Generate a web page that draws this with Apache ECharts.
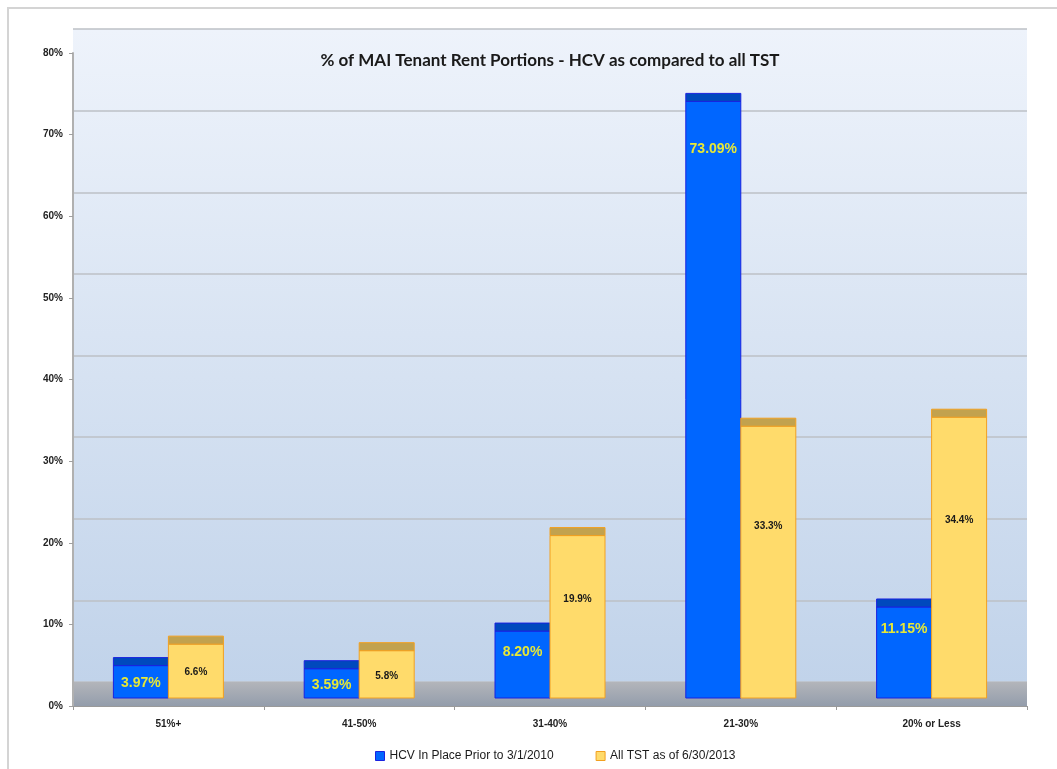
<!DOCTYPE html>
<html>
<head>
<meta charset="utf-8">
<script src="https://cdn.jsdelivr.net/npm/echarts@6/dist/echarts.min.js"></script>
<style>
  html, body { margin: 0; padding: 0; background: #fff; }
  #chart { width: 1057px; height: 769px; }
</style>
</head>
<body>
<div id="chart"></div>
<script type="text/javascript">
    // data
    const categories = ['51%+', '41-50%', '31-40%', '21-30%', '20% or Less'];
    const hcvValues = [3.97, 3.59, 8.20, 73.09, 11.15];
    const tstValues = [6.6, 5.8, 19.9, 33.3, 34.4];
    const seriesNames = ['HCV In Place Prior to 3/1/2010', 'All TST as of 6/30/2013'];
    const yTicks = [0, 10, 20, 30, 40, 50, 60, 70, 80];

    const chart = echarts.init(document.getElementById('chart'));

    // front face / top cap / border / label colours per series
    const looks = [
        { front: '#0066ff', cap: '#0049bd', stroke: '#1a22e0', label: '#e6e836', font: 'bold 14px Arial', digits: 2 },
        { front: '#ffdb6b', cap: '#c2a24e', stroke: '#f2a020', label: '#1a1a1a', font: 'bold 10px Arial', digits: 1 }
    ];
    const capH = 8;

    function barRenderer(s) {
        return function (params, api) {
            const idx = api.value(0);
            const val = api.value(1);
            const base = api.coord([idx, 0]);
            const top = api.coord([idx, val]);
            const band = api.size([1, 0])[0];
            const w = Math.round(band * 0.288);
            const x0 = s === 0 ? base[0] - w : base[0];
            const h = base[1] - top[1];
            const lk = looks[s];
            const off = s === 0 ? Math.min(h * 0.55, 18 + h * 0.05) : 10 + h * 0.33;
            return {
                type: 'group',
                children: [
                    {
                        type: 'rect',
                        shape: { x: x0, y: top[1], width: w, height: h },
                        style: { fill: lk.front, stroke: lk.stroke, lineWidth: 1 }
                    },
                    {
                        type: 'rect',
                        shape: { x: x0, y: top[1] - capH, width: w, height: capH },
                        style: { fill: lk.cap, stroke: lk.stroke, lineWidth: 1 }
                    },
                    {
                        type: 'text',
                        style: {
                            text: val.toFixed(lk.digits) + '%',
                            x: x0 + w / 2,
                            y: top[1] + off,
                            align: 'center',
                            verticalAlign: 'middle',
                            fill: lk.label,
                            font: lk.font
                        }
                    }
                ]
            };
        };
    }

    const gridLeft = 73, gridRight = 30;

    let option = {
        backgroundColor: '#ffffff',
        animation: false,
        title: {
            text: '% of MAI Tenant Rent Portions - HCV as compared to all TST',
            left: 545,
            top: 47,
            textAlign: 'center',
            textStyle: { fontFamily: 'Lato', fontWeight: 'bold', fontSize: 17, color: '#1a1a1a' }
        },
        legend: {
            left: 370,
            top: 745,
            itemWidth: 9,
            itemHeight: 9,
            itemGap: 42,
            textStyle: { fontFamily: 'Arial', fontSize: 12, color: '#1a1a1a' },
            data: [
                { name: seriesNames[0], icon: 'rect', itemStyle: { color: '#0066ff', borderColor: '#1a22e0', borderWidth: 1 } },
                { name: seriesNames[1], icon: 'rect', itemStyle: { color: '#ffdb6b', borderColor: '#f2a020', borderWidth: 1 } }
            ]
        },
        graphic: [
            // outer chart frame
            {
                type: 'rect', z: -10,
                shape: { x: 8, y: 8, width: 1200, height: 900 },
                style: { fill: 'none', stroke: '#d4d4d4', lineWidth: 2 }
            },
            // floor
            {
                type: 'rect', z: 1,
                shape: { x: gridLeft, y: 682, width: 1057 - gridLeft - gridRight, height: 25 },
                style: {
                    fill: new echarts.graphic.LinearGradient(0, 0, 0, 1, [
                        { offset: 0, color: '#b3b5ba' },
                        { offset: 1, color: '#929cab' }
                    ])
                }
            }
        ],
        grid: [
            // axis labels / ticks
            { left: gridLeft, right: gridRight, top: 53, bottom: 63 },
            // back wall with gridlines
            {
                left: gridLeft, right: gridRight, top: 29, bottom: 87,
                show: true, borderWidth: 0,
                backgroundColor: new echarts.graphic.LinearGradient(0, 0, 0, 1, [
                    { offset: 0, color: '#eef3fb' },
                    { offset: 1, color: '#c1d3ea' }
                ])
            },
            // bars (front faces sit slightly above the axis baseline)
            { left: gridLeft, right: gridRight, top: 45, bottom: 71 }
        ],
        xAxis: [
            {
                gridIndex: 0,
                type: 'category',
                data: categories,
                axisLine: { lineStyle: { color: '#9a9a9a', width: 1 } },
                axisTick: { show: true, length: 4, lineStyle: { color: '#9a9a9a' } },
                axisLabel: { fontFamily: 'Arial', fontWeight: 'bold', fontSize: 10, color: '#222', margin: 13 },
                z: 3
            },
            { gridIndex: 1, type: 'category', data: categories, show: false },
            { gridIndex: 2, type: 'category', data: categories, show: false }
        ],
        yAxis: [
            {
                gridIndex: 0,
                type: 'value',
                min: yTicks[0],
                max: yTicks[yTicks.length - 1],
                interval: 10,
                axisLine: { show: true, lineStyle: { color: '#b0b0b0', width: 2 } },
                axisTick: { show: true, length: 4, lineStyle: { color: '#a0a0a0' } },
                axisLabel: { formatter: '{value}%', fontFamily: 'Arial', fontWeight: 'bold', fontSize: 10, color: '#222', margin: 10 },
                splitLine: { show: false },
                z: 3
            },
            {
                gridIndex: 1,
                type: 'value',
                min: 0, max: 80, interval: 10,
                axisLine: { show: false },
                axisTick: { show: false },
                axisLabel: { show: false },
                splitLine: { show: true, lineStyle: { color: '#bcc0c6', width: 1.5 } }
            },
            { gridIndex: 2, type: 'value', min: 0, max: 80, interval: 10, show: false, splitLine: { show: false } }
        ],
        series: [
            {
                name: seriesNames[0],
                type: 'custom',
                xAxisIndex: 2,
                yAxisIndex: 2,
                z: 5,
                itemStyle: { color: '#0066ff' },
                renderItem: barRenderer(0),
                data: categories.map((c, i) => [i, hcvValues[i]])
            },
            {
                name: seriesNames[1],
                type: 'custom',
                xAxisIndex: 2,
                yAxisIndex: 2,
                z: 5,
                itemStyle: { color: '#ffdb6b' },
                renderItem: barRenderer(1),
                data: categories.map((c, i) => [i, tstValues[i]])
            }
        ]
    };

    chart.setOption(option);
</script>
</body>
</html>
